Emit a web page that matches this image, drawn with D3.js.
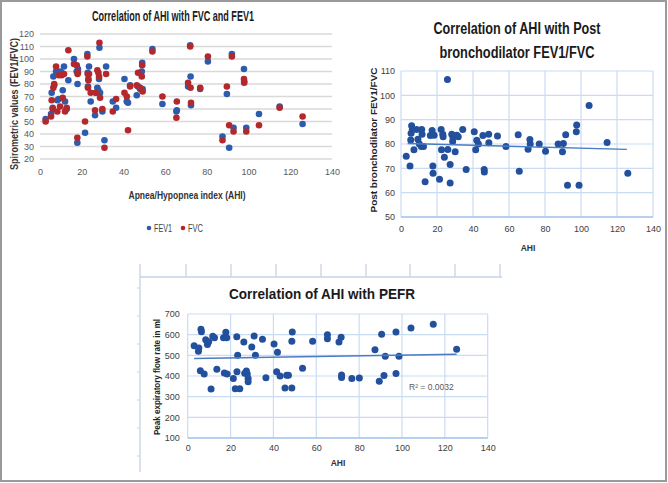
<!DOCTYPE html>
<html><head><meta charset="utf-8">
<script src="https://cdn.jsdelivr.net/npm/d3@7"></script>
<style>
html,body{margin:0;padding:0;background:#fff;}
text{font-family:"Liberation Sans Narrow","Liberation Sans",Arial,sans-serif;}
</style></head>
<body>
<script>
// ---------- DATA ----------
// Panel 1: Correlation of AHI with FVC and FEV1
const spiroAhi = [2.7,5.3,5.6,6.1,6.4,6.8,7.7,8.3,9.0,9.6,10.4,10.9,11.5,12.0,12.8,13.6,16.3,17.6,17.9,18.0,18.2,21.6,22.7,22.9,23.0,23.2,23.5,24.3,26.4,26.8,27.5,28.0,28.3,28.5,28.8,29.9,30.9,31.7,34.9,36.5,40.5,41.6,42.2,43.2,46.4,47.0,48.0,48.8,49.0,49.2,53.9,58.7,65.4,65.6,71.0,72.0,72.2,72.4,76.8,80.5,87.5,89.6,90.7,92.0,92.8,97.8,97.9,98.9,105.0,114.9,125.9];
const fev1Vals = [52,56,73,61,86,79,90,67,68,90,89,75,94,66,60,83,100,90,33,80,92,41,104,89,78,84,94,66,55,73,77,75,84,109,73,58,35,94,66,61,84,66,65,79,71,78,76,90,97,76,108,64,58,59,78,111,86,63,76,98,38,72,29,104,45,92,82,45,56,62,48];
const fvcVals  = [50,54,67,60,77,80,94,58,87,62,87,69,88,58,61,107,96,95,37,88,89,50,102,88,77,83,88,73,59,73,91,89,86,113,69,60,29,88,58,68,73,70,43,78,79,89,77,86,95,74,106,70,53,66,81,110,77,65,77,102,35,78,47,102,42,84,81,42,47,61,54];
const spiroSeries = ["FEV1","FVC"];
const spiroYTicks = [20,30,40,50,60,70,80,90,100,110,120];
const ahiTicks = [0,20,40,60,80,100,120,140];

// Panel 2: Correlation of AHI with Post bronchodilator FEV1/FVC
const postAhi   = [2.9,5.0,5.4,5.6,5.9,6.3,7.2,8.7,9.4,10.2,11.3,11.5,11.7,12.5,13.4,16.3,17.3,17.7,17.8,18.4,21.4,22.3,22.5,23.2,23.4,24.1,25.8,26.0,27.3,27.3,28.2,28.7,28.9,30.1,31.0,31.8,34.3,36.2,40.7,41.5,42.1,43.0,45.5,46.2,46.3,48.7,48.8,53.6,58.3,65.1,65.7,70.6,71.6,71.8,76.8,80.3,87.3,89.7,90.2,91.5,92.5,97.4,97.6,98.9,104.5,114.5,126.0];
const postRatio = [75,71,81.6,84.4,87.5,86,77.6,86,82,80,79,86,84,79,64.5,83.5,85.5,71,68,83.6,65.5,86,77.6,84,83,74.6,106.5,77.7,71.6,64,84,81,82.5,76.8,83.6,83,86,69.5,85,77.6,81.5,80,83.5,69.5,68.5,84,80.5,83.3,79,83.8,68.8,77.8,81.8,80,80,77,80,76.8,80.2,83.8,63,85,87.8,63,95.8,80.6,68];
const postTrendAhi = [3.7,125.5];
const postTrendVal = [80.2,77.8];
const postYTicks = [50,60,70,80,90,100,110];

// Panel 3: Correlation of AHI with PEFR
const pefrAhi  = [3.0,5.0,5.2,6.2,6.4,5.9,7.7,8.4,9.2,9.8,10.9,11.7,12.5,13.6,16.7,17.1,17.8,18.2,18.4,21.3,22.2,22.9,23.0,23.3,24.3,26.2,26.6,27.4,27.8,28.2,28.2,29.9,31.0,31.6,34.9,36.5,40.3,41.9,41.5,43.1,45.4,46.2,47.0,48.6,48.6,48.8,53.6,58.3,65.2,65.2,70.6,71.6,71.8,71.8,76.6,80.1,87.4,89.4,90.5,91.6,92.2,97.2,97.2,98.6,104.2,114.6,125.5];
const pefrVals = [546,520,536,626,614,426,410,575,552,566,337,592,585,433,585,415,612,585,410,388,338,590,420,500,338,565,413,424,410,388,372,540,593,500,578,392,555,515,420,400,342,404,404,342,568,613,438,568,600,580,565,587,405,393,388,390,527,374,602,403,495,613,412,495,632,651,530];
const pefrTrendAhi = [3.0,125.5];
const pefrTrendVal = [485,505];
const pefrYTicks = [100,200,300,400,500,600,700];
const pefrR2 = "R² = 0.0032";

// ---------- DRAW ----------
const W = 668, H = 483;
const svg = d3.select("body").append("svg").attr("width", W).attr("height", H);
svg.append("rect").attr("width", W).attr("height", H).attr("fill", "#fff");

const BLUE1 = "#2c5cad", RED1 = "#b3282d", DOT = "#23509c";
const GRID_GRAY = "#d9d9d9", GRID_BLUE = "#c9dcf2", TREND = "#4a7cc3";

function fitText(sel, len) { sel.attr("textLength", len).attr("lengthAdjust", "spacingAndGlyphs"); return sel; }

// ===== Panel 1 =====
{
  const x = d3.scaleLinear().domain([0,140]).range([40,332]);
  const y = d3.scaleLinear().domain([20,120]).range([159,34]);
  const g = svg.append("g");
  g.selectAll("line.grid").data(spiroYTicks).join("line")
    .attr("x1", 40).attr("x2", 332).attr("y1", d=>y(d)).attr("y2", d=>y(d))
    .attr("stroke", GRID_GRAY).attr("stroke-width", 1.3);
  const ya = g.append("g").attr("transform","translate(40,0)")
    .call(d3.axisLeft(y).tickValues(spiroYTicks).tickSize(0).tickPadding(6));
  ya.select(".domain").remove();
  ya.selectAll("text").attr("font-size", 9).attr("fill", "#595959");
  const xa = g.append("g").attr("transform","translate(0,159)")
    .call(d3.axisBottom(x).tickValues(ahiTicks).tickSize(0).tickPadding(10));
  xa.select(".domain").remove();
  xa.selectAll("text").attr("font-size", 9).attr("fill", "#595959");

  const pts = spiroAhi.map((a,i)=>({a, f1: fev1Vals[i], fv: fvcVals[i]}));
  g.selectAll("circle.fev1").data(pts.filter(d=>d.f1!=null)).join("circle")
    .attr("cx", d=>x(d.a)).attr("cy", d=>y(d.f1)).attr("r", 3.3).attr("fill", BLUE1);
  g.selectAll("circle.fvc").data(pts.filter(d=>d.fv!=null)).join("circle")
    .attr("cx", d=>x(d.a)).attr("cy", d=>y(d.fv)).attr("r", 3.3).attr("fill", RED1);

  fitText(g.append("text").attr("x", 173).attr("y", 21).attr("text-anchor","middle")
    .attr("font-size", 14).attr("font-weight","bold").attr("fill","#1a1a1a")
    .text("Correlation of AHI with FVC and FEV1"), 162);
  fitText(g.append("text").attr("transform","translate(18,104) rotate(-90)").attr("text-anchor","middle")
    .attr("font-size", 11).attr("font-weight","bold").attr("fill","#333")
    .text("Spirometric values (FEV1/FVC)"), 132);
  fitText(g.append("text").attr("x", 187).attr("y", 199).attr("text-anchor","middle")
    .attr("font-size", 11).attr("font-weight","bold").attr("fill","#333")
    .text("Apnea/Hypopnea index (AHI)"), 117);
  const lg = g.append("g");
  const legX = [149, 183];
  const legW = [18, 15];
  spiroSeries.forEach((s,i)=>{
    lg.append("circle").attr("cx", legX[i]).attr("cy", 228).attr("r", 2.3).attr("fill", i===0?BLUE1:RED1);
    fitText(lg.append("text").attr("x", legX[i]+5).attr("y", 231.5).attr("font-size", 10).attr("fill","#444").text(s), legW[i]);
  });
}

// ===== Panel 2 =====
{
  const x = d3.scaleLinear().domain([0,140]).range([401,653]);
  const y = d3.scaleLinear().domain([50,110]).range([217,71]);
  const g = svg.append("g");
  g.selectAll("line.h").data(postYTicks).join("line")
    .attr("x1", 401).attr("x2", 653).attr("y1", d=>y(d)).attr("y2", d=>y(d))
    .attr("stroke", GRID_BLUE).attr("stroke-width", 1.2);
  g.selectAll("line.v").data(ahiTicks).join("line")
    .attr("y1", 71).attr("y2", 217).attr("x1", d=>x(d)).attr("x2", d=>x(d))
    .attr("stroke", GRID_BLUE).attr("stroke-width", 1.2);
  g.append("line").attr("x1",401).attr("x2",653).attr("y1",217).attr("y2",217).attr("stroke","#a9c6ea").attr("stroke-width",1.4);
  const ya = g.append("g").attr("transform","translate(401,0)")
    .call(d3.axisLeft(y).tickValues(postYTicks).tickSize(0).tickPadding(6));
  ya.select(".domain").remove();
  ya.selectAll("text").attr("font-size", 9).attr("fill", "#404040");
  const xa = g.append("g").attr("transform","translate(0,217)")
    .call(d3.axisBottom(x).tickValues(ahiTicks).tickSize(0).tickPadding(9));
  xa.select(".domain").remove();
  xa.selectAll("text").attr("font-size", 9).attr("fill", "#404040");

  g.selectAll("circle.p").data(postAhi.map((a,i)=>[a,postRatio[i]])).join("circle")
    .attr("cx", d=>x(d[0])).attr("cy", d=>y(d[1])).attr("r", 3.5).attr("fill", DOT);
  g.append("line").attr("x1", x(postTrendAhi[0])).attr("x2", x(postTrendAhi[1]))
    .attr("y1", y(postTrendVal[0])).attr("y2", y(postTrendVal[1]))
    .attr("stroke", TREND).attr("stroke-width", 1.4);

  fitText(g.append("text").attr("x", 517).attr("y", 34).attr("text-anchor","middle")
    .attr("font-size", 16).attr("font-weight","bold").attr("fill","#1a1a1a")
    .text("Correlation of AHI with Post"), 167);
  fitText(g.append("text").attr("x", 517).attr("y", 58).attr("text-anchor","middle")
    .attr("font-size", 16).attr("font-weight","bold").attr("fill","#1a1a1a")
    .text("bronchodilator  FEV1/FVC"), 155);
  fitText(g.append("text").attr("transform","translate(377,140) rotate(-90)").attr("text-anchor","middle")
    .attr("font-size", 9.5).attr("font-weight","bold").attr("fill","#222")
    .text("Post bronchodilator  FEV1/FVC"), 145);
  g.append("text").attr("x", 528).attr("y", 251).attr("text-anchor","middle")
    .attr("font-size", 8.5).attr("font-weight","bold").attr("fill","#333").text("AHI");
}

// ===== Panel 3 =====
{
  const g = svg.append("g");
  // frame/ruler artefact around bottom chart
  const rulerX = [140,186,231,276,321,366,410,455,500];
  const RUL = "#c6d3e4";
  g.append("line").attr("x1",140).attr("x2",502).attr("y1",277).attr("y2",277).attr("stroke",RUL).attr("stroke-width",1.3);
  g.selectAll("line.rt").data(rulerX).join("line")
    .attr("x1",d=>d).attr("x2",d=>d).attr("y1",264).attr("y2",277).attr("stroke",RUL).attr("stroke-width",1.3);
  g.append("line").attr("x1",140).attr("x2",140).attr("y1",277).attr("y2",472).attr("stroke",RUL).attr("stroke-width",1.3);
  g.selectAll("line.rl").data(d3.range(288,472,28)).join("line")
    .attr("x1",137).attr("x2",140).attr("y1",d=>d).attr("y2",d=>d).attr("stroke",RUL).attr("stroke-width",1);

  const x = d3.scaleLinear().domain([0,140]).range([187.7,487.7]);
  const y = d3.scaleLinear().domain([100,700]).range([438,314]);
  g.selectAll("line.h").data(pefrYTicks).join("line")
    .attr("x1", 187.7).attr("x2", 487.7).attr("y1", d=>y(d)).attr("y2", d=>y(d))
    .attr("stroke", GRID_BLUE).attr("stroke-width", 1.2);
  g.selectAll("line.v").data(ahiTicks).join("line")
    .attr("y1", 314).attr("y2", 438).attr("x1", d=>x(d)).attr("x2", d=>x(d))
    .attr("stroke", GRID_BLUE).attr("stroke-width", 1.2);
  g.append("line").attr("x1",187.7).attr("x2",487.7).attr("y1",438).attr("y2",438).attr("stroke","#a9c6ea").attr("stroke-width",1.4);
  const ya = g.append("g").attr("transform","translate(187.7,0)")
    .call(d3.axisLeft(y).tickValues(pefrYTicks).tickSize(0).tickPadding(8));
  ya.select(".domain").remove();
  ya.selectAll("text").attr("font-size", 9).attr("fill", "#404040");
  const xa = g.append("g").attr("transform","translate(0,438)")
    .call(d3.axisBottom(x).tickValues(ahiTicks).tickSize(0).tickPadding(7));
  xa.select(".domain").remove();
  xa.selectAll("text").attr("font-size", 9).attr("fill", "#404040");

  g.selectAll("circle.p").data(pefrAhi.map((a,i)=>[a,pefrVals[i]])).join("circle")
    .attr("cx", d=>x(d[0])).attr("cy", d=>y(d[1])).attr("r", 3.5).attr("fill", DOT);
  g.append("line").attr("x1", x(pefrTrendAhi[0])).attr("x2", x(pefrTrendAhi[1]))
    .attr("y1", y(pefrTrendVal[0])).attr("y2", y(pefrTrendVal[1]))
    .attr("stroke", TREND).attr("stroke-width", 1.4);
  g.append("text").attr("x", 409).attr("y", 390).attr("font-size", 8.5).attr("fill","#595959").text(pefrR2);

  fitText(g.append("text").attr("x", 322).attr("y", 299).attr("text-anchor","middle")
    .attr("font-size", 15).attr("font-weight","bold").attr("fill","#1a1a1a")
    .text("Correlation of AHI with PEFR"), 186);
  fitText(g.append("text").attr("transform","translate(160,377) rotate(-90)").attr("text-anchor","middle")
    .attr("font-size", 8.5).attr("font-weight","bold").attr("fill","#222")
    .text("Peak expiratory flow rate in ml"), 116);
  g.append("text").attr("x", 338).attr("y", 466).attr("text-anchor","middle")
    .attr("font-size", 8.5).attr("font-weight","bold").attr("fill","#333").text("AHI");
}

// outer frame
svg.append("rect").attr("x",1).attr("y",1).attr("width",W-3).attr("height",H-3)
  .attr("fill","none").attr("stroke","#9a9a9a").attr("stroke-width",2);
</script>
</body></html>
